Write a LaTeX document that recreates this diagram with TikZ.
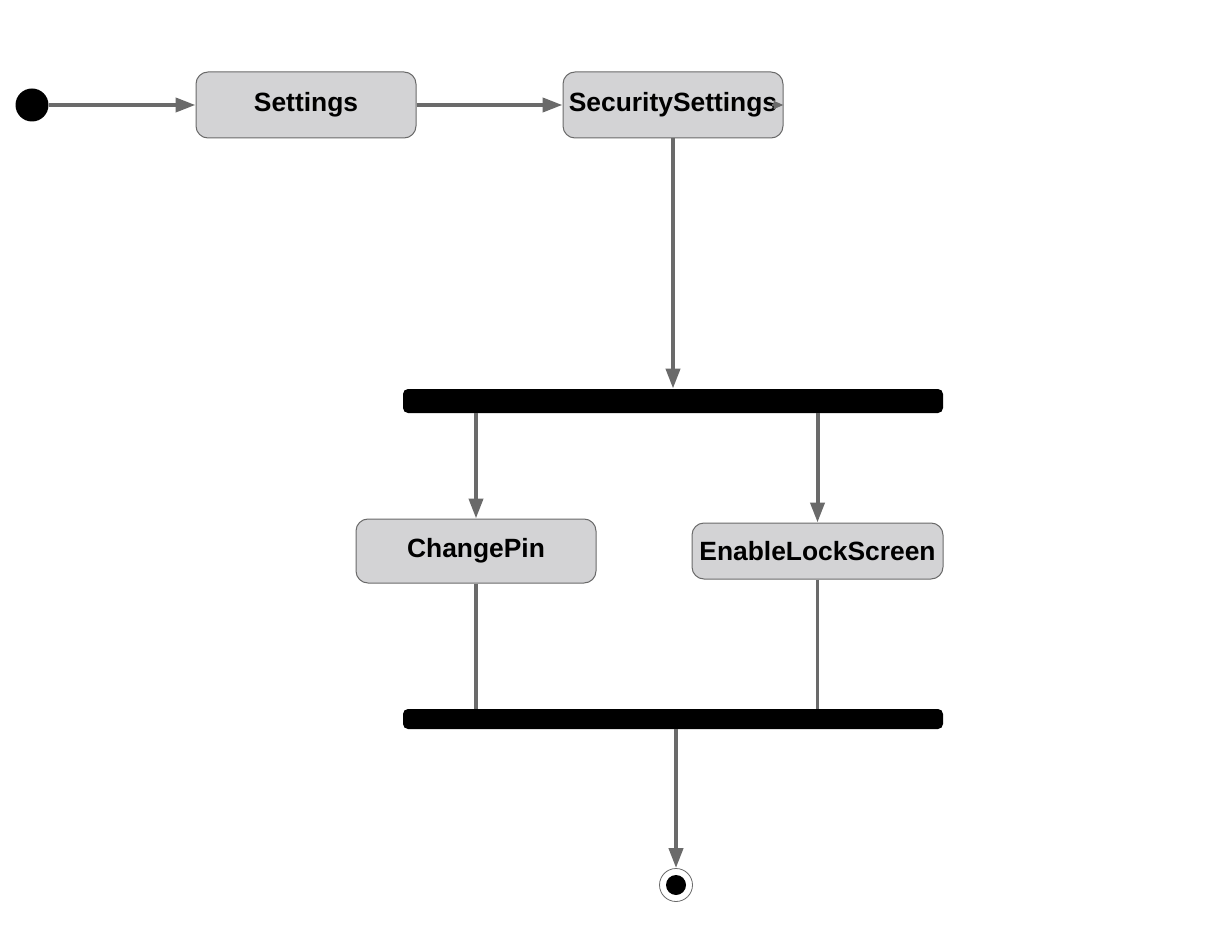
\documentclass[tikz,border=0pt]{standalone}
\usepackage{fontspec}
\setmainfont{Liberation Sans}
\usetikzlibrary{arrows.meta}
\definecolor{boxfill}{HTML}{D3D3D5}
\definecolor{boxline}{HTML}{6A6A6A}
\definecolor{flowgrey}{HTML}{6A6A6A}
\begin{document}
\begin{tikzpicture}[x=0.5pt, y=-0.5pt,
  state/.style={draw=boxline, fill=boxfill, rounded corners=6pt, line width=0.5pt,
    minimum width=110pt, minimum height=33pt, inner sep=0pt,
    font=\fontsize{13.2}{15}\selectfont\bfseries},
  bar/.style={fill=black, rounded corners=2.5pt, minimum width=270pt, inner sep=0pt},
  flow/.style={draw=flowgrey, line width=2pt, -{Triangle[length=10pt, width=7pt]}},
  link/.style={draw=flowgrey, line width=2pt}]
\useasboundingbox (0,0) rectangle (1232,952);

% States
\node[circle, fill=black, minimum size=16.5pt, inner sep=0pt] (start) at (32,105) {};
\node[state] (settings) at (306,105) {Settings};
\node[state] (security) at (673,105) {SecuritySettings};
\node[state, minimum width=120pt, minimum height=32pt] (pin) at (476,551) {ChangePin};
\node[state, minimum width=125.5pt, minimum height=28pt] (lock) at (817.5,551) {EnableLockScreen};

% Fork and join bars
\node[bar, minimum height=12pt] (fork) at (673,401) {};
\node[bar, minimum height=10pt] (join) at (673,719) {};

% Final state
\node[circle, draw=boxline, fill=white, line width=0.4pt, minimum size=16.5pt, inner sep=0pt] (final) at (676,885) {};
\fill[black] (final.center) circle (5pt);

% Transitions
\draw[flow] (start) -- (settings);
\draw[flow] (settings) -- (security);
\draw[draw=flowgrey, line width=1pt, -{Triangle[length=5pt, width=4pt]}] ([xshift=-6pt]security.east) -- (security.east);
\draw[flow] (security.south) -- (security.south |- fork.north);
\draw[flow] (fork.south -| pin.north) -- (pin.north);
\draw[flow] (fork.south -| lock.north) -- (lock.north);
\draw[link] (pin.south) -- (pin.south |- join.north);
\draw[link, line width=1.6pt] (lock.south) -- (lock.south |- join.north);
\draw[flow] (join.south -| final.north) -- (final.north);
\end{tikzpicture}
\end{document}
